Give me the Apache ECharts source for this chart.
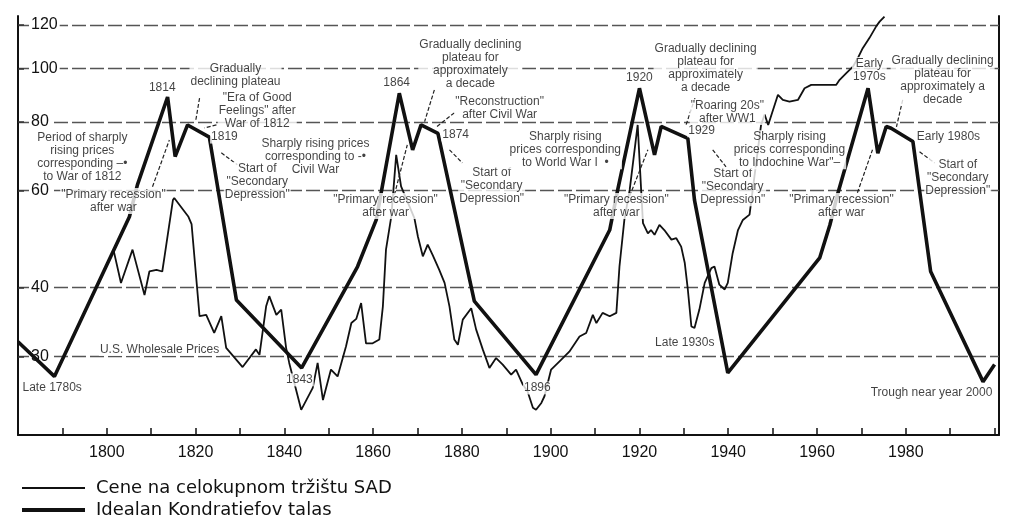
<!DOCTYPE html>
<html>
<head>
<meta charset="utf-8">
<title>Kondratiev</title>
<script src="https://cdn.jsdelivr.net/npm/echarts@6.0.0/dist/echarts.min.js"></script>
<style>
  html, body { margin: 0; padding: 0; background: #fff; }
  #main { width: 1024px; height: 532px; }
</style>
</head>
<body>
<div id="main"></div>
<script>
// US wholesale prices (thin line)
const priceYears = [1801.5, 1803.2, 1805.8, 1808.5, 1809.6, 1811.2, 1812.5, 1813.0, 1814.9, 1815.2,
  1818.4, 1819.1, 1820.9, 1822.4, 1824.2, 1825.8, 1826.9, 1830.6, 1833.6, 1834.4,
  1835.9, 1836.6, 1838.2, 1839.3, 1840.4, 1841.1, 1843.8, 1846.4, 1847.5, 1848.7,
  1850.5, 1852.0, 1853.9, 1855.1, 1856.2, 1857.3, 1858.4, 1859.9, 1861.4, 1862.2,
  1862.9, 1864.1, 1865.2, 1866.3, 1869.3, 1870.1, 1871.2, 1872.3, 1873.4, 1874.9,
  1876.1, 1877.2, 1878.3, 1879.1, 1880.2, 1882.1, 1883.2, 1884.7, 1886.2, 1887.7,
  1889.2, 1891.1, 1892.2, 1893.7, 1894.8, 1896.0, 1896.7, 1897.9, 1898.6, 1900.1,
  1902.0, 1904.2, 1906.5, 1908.0, 1909.5, 1910.3, 1911.7, 1913.3, 1914.8, 1915.5,
  1916.6, 1917.8, 1919.6, 1920.4, 1920.8, 1921.9, 1922.6, 1923.4, 1924.5, 1925.6,
  1927.2, 1928.3, 1929.4, 1930.2, 1930.9, 1931.7, 1932.4, 1933.5, 1934.7, 1936.2,
  1936.9, 1938.0, 1939.2, 1939.9, 1941.0, 1942.2, 1943.3, 1944.8, 1947.4, 1948.2,
  1949.0, 1951.2, 1952.3, 1953.8, 1955.7, 1957.2, 1958.7, 1964.3, 1965.1, 1966.6,
  1968.1, 1969.2, 1970.3, 1971.8, 1973.3, 1974.1, 1975.2];
const priceValues = [46.9, 40.8, 46.9, 38.8, 42.8, 43.1, 42.8, 45.5, 57.7, 58.2,
  53.8, 52.2, 35.5, 35.7, 33.1, 35.5, 31.1, 28.7, 30.9, 30.2,
  37.0, 38.6, 35.7, 36.5, 31.1, 29.2, 24.0, 26.3, 29.2, 25.0,
  28.4, 27.6, 31.3, 34.5, 35.1, 37.5, 31.7, 31.7, 32.2, 37.0,
  46.9, 53.9, 69.7, 61.1, 53.5, 49.5, 45.6, 47.9, 45.9, 43.1,
  40.8, 37.0, 32.2, 31.5, 35.0, 36.7, 33.6, 30.9, 28.6, 29.8,
  29.0, 27.8, 28.4, 26.7, 25.9, 24.2, 24.0, 24.7, 25.4, 28.4,
  29.4, 30.6, 32.6, 33.1, 35.7, 34.5, 36.0, 35.5, 36.0, 43.7,
  53.1, 60.2, 79.0, 59.8, 52.4, 50.2, 50.9, 49.9, 52.0, 50.9,
  48.9, 49.2, 47.5, 44.4, 39.7, 34.0, 33.8, 36.5, 40.8, 43.4,
  43.7, 40.5, 39.7, 40.8, 46.2, 50.9, 53.1, 54.3, 79.0, 82.5,
  79.0, 89.6, 87.7, 87.1, 87.7, 92.1, 93.4, 93.4, 95.4, 98.1,
  100.8, 104.5, 108.9, 113.6, 119.2, 121.7, 124.3];

// idealised Kondratiev wave (thick line)
const waveYears = [1780, 1788.2, 1805.1, 1806.9, 1813.7, 1815.4, 1818.2, 1823.1, 1829.2, 1843.9,
  1856.5, 1860.7, 1865.9, 1868.9, 1870.8, 1874.6, 1882.8, 1896.7, 1913.3, 1915.1,
  1920.0, 1923.4, 1924.9, 1930.9, 1932.4, 1939.9, 1960.6, 1962.9, 1964.7, 1971.5,
  1973.7, 1975.6, 1976.7, 1981.6, 1985.6, 1997.4, 2000.0];
const waveValues = [31.9, 27.6, 53.8, 61.5, 88.8, 69.2, 79.0, 75.1, 38.0, 28.6,
  43.7, 53.1, 90.2, 71.2, 79.0, 76.3, 37.8, 27.8, 50.9, 60.2,
  92.1, 69.7, 78.5, 74.7, 57.7, 28.0, 45.3, 52.0, 59.4, 92.1,
  70.2, 78.5, 77.9, 73.7, 42.8, 27.0, 29.0];

const xTickLabels = [1800, 1820, 1840, 1860, 1880, 1900, 1920, 1940, 1960, 1980];
const yTickValues = [30, 40, 60, 80, 100, 120];

const seriesNames = ['Cene na celokupnom tržištu SAD', 'Idealan Kondratiefov talas'];

// annotations: [year, value, text]
const notes = [
  [1812.5, 92.2, '1814'],
  [1829.0, 97.4, 'Gradually\ndeclining plateau'],
  [1833.9, 83.8, '"Era of Good\nFeelings" after\nWar of 1812'],
  [1826.5, 75.1, '1819'],
  [1794.5, 69.1, 'Period of sharply\nrising prices\ncorresponding –•\nto War of 1812'],
  [1801.5, 57.5, '"Primary recession"\nafter war'],
  [1847.0, 69.1, 'Sharply rising prices\ncorresponding to -•\nCivil War'],
  [1833.9, 62.3, 'Start of\n"Secondary\nDepression"'],
  [1843.4, 27.2, '1843'],
  [1811.9, 30.9, 'U.S. Wholesale Prices'],
  [1787.7, 26.3, 'Late 1780s'],
  [1865.3, 94.2, '1864'],
  [1881.9, 102.0, 'Gradually declining\nplateau for\napproximately\na decade'],
  [1888.5, 84.8, '"Reconstruction"\nafter Civil War'],
  [1878.6, 75.8, '1874'],
  [1886.7, 61.2, 'Start of\n"Secondary\nDepression"'],
  [1862.8, 56.3, '"Primary recession"\nafter war'],
  [1903.3, 71.2, 'Sharply rising\nprices corresponding\nto World War I  •'],
  [1897.0, 26.3, '1896'],
  [1914.8, 56.3, '"Primary recession"\nafter war'],
  [1920.0, 96.2, '1920'],
  [1934.9, 100.3, 'Gradually declining\nplateau for\napproximately\na decade'],
  [1939.8, 83.4, '"Roaring 20s"\nafter WW1'],
  [1934.0, 77.1, '1929'],
  [1941.0, 61.0, 'Start of\n"Secondary\nDepression"'],
  [1930.2, 31.8, 'Late 1930s'],
  [1953.8, 71.2, 'Sharply rising\nprices corresponding\nto Indochine War"–'],
  [1965.5, 56.3, '"Primary recession"\nafter war'],
  [1971.8, 99.4, 'Early\n1970s'],
  [1988.3, 95.4, 'Gradually declining\nplateau for\napproximately a\ndecade'],
  [1989.6, 75.1, 'Early 1980s'],
  [1991.7, 63.3, 'Start of\n"Secondary\nDepression"'],
  [1985.8, 25.8, 'Trough near year 2000']
];

// leader lines from notes to the curve: [[year, value], [year, value]]
const leaders = [
  [[1810.3, 61.0], [1814.1, 74.2]],
  [[1820.9, 88.4], [1820.0, 80.1]],
  [[1824.7, 79.0], [1822.0, 78.0]],
  [[1825.8, 70.3], [1829.4, 66.9]],
  [[1864.8, 59.0], [1867.7, 72.7]],
  [[1873.8, 91.5], [1871.6, 80.1]],
  [[1878.3, 83.1], [1874.3, 78.4]],
  [[1877.2, 71.2], [1880.1, 67.4]],
  [[1917.8, 58.7], [1921.9, 71.2]],
  [[1932.5, 88.4], [1930.5, 79.0]],
  [[1935.4, 78.4], [1933.6, 77.4]],
  [[1936.5, 71.2], [1939.5, 66.3]],
  [[1969.1, 59.5], [1972.5, 71.2]],
  [[1979.3, 87.7], [1977.9, 78.4]],
  [[1983.1, 70.6], [1986.5, 67.4]]
];

const zip = (xs, ys) => xs.map((x, i) => [x, ys[i]]);

const chart = echarts.init(document.getElementById('main'), null, { renderer: 'canvas' });

const noteFont = 'Liberation Sans, Arial, sans-serif';

const option = {
  animation: false,
  backgroundColor: '#fff',
  grid: { left: 18, right: 25, top: 16, bottom: 97 },
  legend: {
    data: [
      { name: seriesNames[0], lineStyle: { width: 1.8 } },
      { name: seriesNames[1], lineStyle: { width: 4 } }
    ],
    orient: 'vertical',
    left: 20,
    top: 479,
    padding: 0,
    itemWidth: 63,
    itemHeight: 18,
    itemGap: 4,
    itemStyle: { opacity: 0 },
    textStyle: {
      fontFamily: 'DejaVu Sans',
      fontSize: 18,
      lineHeight: 18,
      color: '#111',
      padding: [0, 0, 0, 6]
    }
  },
  xAxis: {
    type: 'value',
    min: 1780,
    max: 2001,
    interval: 10,
    axisLine: { show: true, onZero: false, lineStyle: { color: '#111', width: 2 } },
    axisTick: { show: true, inside: true, length: 7, lineStyle: { color: '#111', width: 1.5 } },
    axisLabel: {
      margin: 10,
      fontFamily: noteFont,
      fontSize: 16,
      color: '#111',
      formatter: v => xTickLabels.includes(v) ? String(v) : ''
    },
    splitLine: { show: false }
  },
  yAxis: [
    {
      type: 'log',
      min: 21.6,
      max: 124.6,
      z: 3,
      axisLine: { show: true, lineStyle: { color: '#111', width: 2 } },
      axisTick: {
        show: true, inside: true, length: 6, customValues: yTickValues,
        lineStyle: { color: '#333', width: 1.5 }
      },
      axisLabel: {
        inside: true,
        margin: 11,
        customValues: yTickValues,
        fontFamily: noteFont,
        fontSize: 16,
        color: '#111',
        backgroundColor: '#fff',
        padding: [0, 2]
      },
      splitLine: {
        show: true,
        lineStyle: { color: '#555', width: 1.3, type: [14, 4] }
      }
    },
    {
      type: 'log',
      min: 21.6,
      max: 124.6,
      position: 'right',
      axisLine: { show: true, lineStyle: { color: '#111', width: 2 } },
      axisTick: { show: false },
      axisLabel: { show: false },
      splitLine: { show: false }
    }
  ],
  series: [
    {
      name: seriesNames[0],
      type: 'line',
      data: zip(priceYears, priceValues),
      symbol: 'none',
      z: 3,
      lineStyle: { color: '#111', width: 1.8 },
      itemStyle: { color: '#111' }
    },
    {
      name: seriesNames[1],
      type: 'line',
      data: zip(waveYears, waveValues),
      symbol: 'none',
      z: 3,
      lineStyle: { color: '#111', width: 3.6 },
      itemStyle: { color: '#111' }
    },
    {
      name: 'notes',
      type: 'scatter',
      z: 6,
      silent: true,
      symbolSize: 0,
      data: notes.map(n => ({ value: [n[0], n[1]], text: n[2] })),
      label: {
        show: true,
        position: 'inside',
        formatter: p => p.data.text,
        fontFamily: noteFont,
        fontSize: 12,
        lineHeight: 13,
        color: '#111',
        align: 'center',
        backgroundColor: '#fff',
        padding: [0, 1]
      },
      markLine: {
        silent: true,
        symbol: ['none', 'none'],
        label: { show: false },
        lineStyle: { color: '#222', width: 1.2, type: [4, 2] },
        data: leaders.map(l => [{ coord: l[0] }, { coord: l[1] }])
      }
    }
  ]
};

chart.setOption(option);
</script>
</body>
</html>
